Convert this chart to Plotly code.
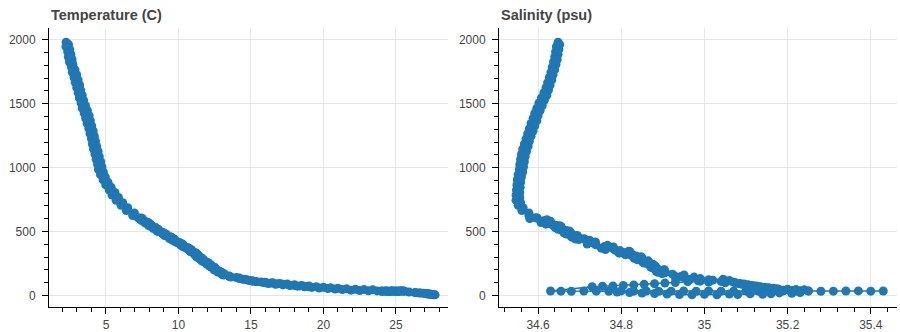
import plotly.graph_objects as go

# ---- deep profile ----
deep_depth = [
    1980, 1962, 1945, 1925, 1905, 1886, 1866, 1845, 1826, 1806,
    1785, 1766, 1745, 1726, 1705, 1686, 1665, 1646, 1625, 1606,
    1585, 1566, 1545, 1526, 1505, 1486, 1465, 1446, 1425, 1406,
    1385, 1366, 1345, 1326, 1305, 1286, 1265, 1246, 1225, 1206,
    1185, 1166, 1145, 1126, 1105, 1086, 1065, 1046, 1025, 1006,
    985, 966, 945, 926, 905, 886, 865, 846, 825, 806,
    785, 766, 745, 726, 705, 686, 665, 646, 625, 606,
    608, 576, 585, 552, 566, 539, 550, 514, 523, 496,
    508, 477, 484, 452, 467, 438, 450, 415, 422, 396,
    409, 376, 384, 353, 366, 336, 351, 314, 322, 297,
    308, 276, 285, 252, 266, 239, 250, 214, 223, 196,
    208, 177, 184, 152, 167, 140, 148,
]
deep_temp = [
    2.25, 2.42, 2.24, 2.50, 2.36, 2.58, 2.40, 2.66, 2.48, 2.72,
    2.62, 2.86, 2.68, 2.98, 2.80, 3.08, 2.88, 3.18, 2.98, 3.26,
    3.08, 3.36, 3.16, 3.46, 3.28, 3.58, 3.36, 3.72, 3.50, 3.84,
    3.60, 3.92, 3.70, 4.02, 3.82, 4.12, 3.90, 4.20, 4.00, 4.28,
    4.06, 4.36, 4.14, 4.46, 4.24, 4.54, 4.32, 4.64, 4.42, 4.72,
    4.48, 4.82, 4.62, 4.96, 4.80, 5.14, 4.98, 5.36, 5.22, 5.62,
    5.42, 5.86, 5.70, 6.16, 6.04, 6.50, 6.40, 6.96, 6.84, 7.44,
    7.22, 7.78, 7.52, 8.05, 7.72, 8.25, 7.92, 8.60, 8.27, 8.85,
    8.52, 9.15, 8.87, 9.50, 9.12, 9.73, 9.37, 10.07, 9.79, 10.33,
    9.98, 10.62, 10.33, 10.92, 10.58, 11.14, 10.77, 11.36, 11.10, 11.53,
    11.24, 11.75, 11.47, 12.07, 11.70, 12.25, 11.92, 12.53, 12.25, 12.73,
    12.42, 12.98, 12.71, 13.50, 12.98, 14.00, 13.52,
]
deep_sal = [
    34.648, 34.652, 34.644, 34.650, 34.642, 34.648, 34.640, 34.646, 34.637, 34.643,
    34.634, 34.640, 34.631, 34.636, 34.627, 34.633, 34.623, 34.629, 34.619, 34.625,
    34.614, 34.621, 34.608, 34.615, 34.602, 34.610, 34.597, 34.605, 34.592, 34.600,
    34.588, 34.597, 34.583, 34.592, 34.579, 34.588, 34.575, 34.583, 34.571, 34.579,
    34.567, 34.576, 34.563, 34.572, 34.560, 34.569, 34.558, 34.567, 34.556, 34.565,
    34.555, 34.563, 34.552, 34.560, 34.550, 34.558, 34.549, 34.557, 34.548, 34.556,
    34.547, 34.556, 34.547, 34.558, 34.552, 34.564, 34.561, 34.578, 34.578, 34.598,
    34.594, 34.615, 34.614, 34.634, 34.630, 34.642, 34.643, 34.655, 34.658, 34.665,
    34.667, 34.676, 34.680, 34.690, 34.690, 34.698, 34.700, 34.719, 34.719, 34.739,
    34.733, 34.761, 34.760, 34.786, 34.780, 34.806, 34.797, 34.824, 34.826, 34.835,
    34.836, 34.849, 34.851, 34.861, 34.864, 34.867, 34.870, 34.877, 34.881, 34.887,
    34.888, 34.905, 34.906, 34.929, 34.923, 34.951, 34.943,
]

# ---- extra readings in the 600-130 m layer ----
mid_depth = [
    601, 592, 571, 580, 558, 545, 531, 540, 518, 505,
    491, 500, 481, 470, 460, 444, 455, 432, 441, 419,
    402, 392, 370, 380, 360, 342, 331, 346, 318, 303,
    291, 300, 280, 271, 259, 244, 254, 230, 220, 201,
    190, 200, 171, 160, 181, 144, 136,
]
mid_temp = [
    7.52, 7.38, 7.91, 7.54, 8.08, 8.00, 8.43, 8.06, 8.60, 8.52,
    8.97, 8.58, 9.12, 9.03, 9.43, 9.42, 9.51, 9.60, 9.72, 9.79,
    10.28, 10.17, 10.72, 10.33, 10.86, 10.85, 11.22, 10.80, 11.35, 11.25,
    11.62, 11.28, 11.73, 11.60, 12.01, 11.96, 12.08, 12.14, 12.50, 12.46,
    12.83, 12.47, 13.15, 13.09, 12.98, 13.62, 14.19,
]
mid_sal = [
    34.580, 34.621, 34.607, 34.630, 34.619, 34.652, 34.641, 34.655, 34.648, 34.674,
    34.662, 34.677, 34.668, 34.694, 34.680, 34.711, 34.682, 34.724, 34.690, 34.738,
    34.718, 34.767, 34.752, 34.781, 34.762, 34.821, 34.795, 34.818, 34.810, 34.847,
    34.831, 34.849, 34.838, 34.865, 34.852, 34.876, 34.855, 34.882, 34.871, 34.903,
    34.884, 34.904, 34.898, 34.951, 34.888, 34.975, 34.931,
]

# ---- near-surface part ----
surf_depth = [
    104, 93, 99, 88, 94, 83, 89, 78, 84, 73, 79, 68, 74, 63, 69,
    58, 64, 54, 60, 50, 56, 46, 52, 42, 49, 39, 46, 37, 44, 36,
    35, 34, 36, 35, 34, 33, 35, 34, 36, 33, 34, 35, 33, 34,
    36, 33, 35, 34, 33, 35, 34, 36, 33, 34, 35, 33, 34, 35,
    68, 72, 75, 79, 83, 87, 92, 97, 102, 108, 112,
    120, 128, 118, 110, 105, 115, 125, 132, 124, 100,
    22, 17, 20, 14, 10, 13, 8, 11, 6, 9, 5, 8, 12, 15, 19, 23, 27,
]
surf_temp = [
    16.0, 16.2, 16.5, 16.7, 17.0, 17.2, 17.5, 17.7, 18.0, 18.2, 18.5, 18.7, 19.0, 19.2, 19.5,
    19.7, 20.0, 20.3, 20.5, 20.8, 21.0, 21.3, 21.6, 21.9, 22.2, 22.5, 22.8, 23.1, 23.4, 23.7,
    24.0, 25.2, 24.3, 25.5, 24.6, 24.9, 25.3, 24.1, 25.0, 24.4, 25.6, 24.7, 25.1, 24.2,
    25.4, 24.5, 24.8, 25.2, 24.0, 25.5, 24.6, 24.3, 25.0, 24.8, 25.3, 24.4, 25.1, 24.7,
    19.0, 18.7, 18.4, 18.0, 17.6, 17.2, 16.8, 16.4, 15.9, 15.4, 15.1,
    14.8, 14.4, 14.9, 15.3, 15.7, 15.1, 14.6, 14.2, 14.7, 16.0,
    26.4, 26.9, 26.6, 27.1, 27.4, 27.2, 27.5, 27.3, 27.6, 27.4, 27.7, 27.5, 27.2, 27.0, 26.7, 26.3, 25.9,
]
surf_sal = [
    35.070, 35.080, 35.075, 35.090, 35.085, 35.100, 35.095, 35.110, 35.105, 35.120, 35.115, 35.130, 35.125, 35.140, 35.135,
    35.150, 35.145, 35.160, 35.155, 35.170, 35.165, 35.180, 35.175, 35.190, 35.200, 35.210, 35.220, 35.230, 35.240, 35.250,
    35.430, 35.400, 35.370, 35.340, 35.310, 35.280, 35.250, 35.220, 35.190, 35.160, 35.130, 35.100, 35.070, 35.040,
    35.010, 34.980, 34.950, 34.920, 34.890, 34.860, 34.830, 34.800, 34.770, 34.740, 34.710, 34.680, 34.655, 34.630,
    34.730, 34.755, 34.780, 34.805, 34.830, 34.855, 34.880, 34.905, 34.930, 34.960, 34.990,
    35.020, 35.045, 35.060, 35.040, 35.010, 34.985, 34.965, 34.990, 35.010, 35.050,
    35.230, 35.210, 35.180, 35.160, 35.140, 35.110, 35.080, 35.060, 35.030, 35.000, 34.970, 34.940, 34.910, 34.880, 34.850, 34.820, 34.790,
]

titles = ["Temperature (C)", "Salinity (psu)"]
temp_ticks = [5, 10, 15, 20, 25]
sal_ticks = [34.6, 34.8, 35, 35.2, 35.4]
depth_ticks = [0, 500, 1000, 1500, 2000]

# assemble the cast in order: deep readings, with the extra 600-130 m readings
# interleaved row by row, then the near-surface readings
def assemble(deep, mid, surf):
    out = list(deep[:70])
    for r in range(5):
        out += deep[70 + 10 * r: 80 + 10 * r]
        out += mid[10 * r: 10 * r + 10][::-1]
    return out + list(surf)

depth = assemble(deep_depth, mid_depth, surf_depth)
temp = assemble(deep_temp, mid_temp, surf_temp)
sal = assemble(deep_sal, mid_sal, surf_sal)

BLUE = "#1f77b4"
W, H = 900, 332

fig = go.Figure()
for xs, xa, ya in [(temp, "x", "y"), (sal, "x2", "y2")]:
    fig.add_trace(go.Scatter(
        x=xs, y=depth, xaxis=xa, yaxis=ya, mode="lines+markers",
        line=dict(color=BLUE, width=1.5),
        marker=dict(color=BLUE, size=9, line=dict(width=0)),
        showlegend=False, hoverinfo="skip",
    ))

def px(v, total):
    return v / total

ydom = [1 - px(309, H), 1 - px(28, H)]
tickfont = dict(family="Liberation Sans, Arial, sans-serif", size=12, color="#444")

common_axis = dict(
    showline=True, linecolor="black", linewidth=1,
    ticks="outside", ticklen=6, tickcolor="black", tickwidth=1,
    showgrid=True, gridcolor="#e6e6e6", gridwidth=1,
    zeroline=False, tickfont=tickfont,
)

fig.update_layout(
    width=W, height=H,
    margin=dict(l=0, r=0, t=0, b=0),
    paper_bgcolor="white", plot_bgcolor="white",
    xaxis=dict(domain=[px(49, W), px(448, W)], range=[1.07, 28.59], anchor="y",
               tickvals=temp_ticks,
               minor=dict(ticks="outside", ticklen=4, dtick=1, tick0=0, tickcolor="black", showgrid=False),
               **common_axis),
    yaxis=dict(domain=ydom, range=[-91, 2093], anchor="x",
               tickvals=depth_ticks, ticklabelstandoff=4,
               minor=dict(ticks="outside", ticklen=4, dtick=100, tick0=0, tickcolor="black", showgrid=False),
               **common_axis),
    xaxis2=dict(domain=[px(499, W), px(897, W)], range=[34.506, 35.463], anchor="y2",
                tickvals=sal_ticks,
                minor=dict(ticks="outside", ticklen=4, dtick=0.04, tick0=34.6, tickcolor="black", showgrid=False),
                **common_axis),
    yaxis2=dict(domain=ydom, range=[-91, 2093], anchor="x2",
                tickvals=depth_ticks, ticklabelstandoff=4,
                minor=dict(ticks="outside", ticklen=4, dtick=100, tick0=0, tickcolor="black", showgrid=False),
                **common_axis),
)

for t, x0 in zip(titles, [49, 499]):
    fig.add_annotation(
        text=f"<b>{t}</b>", xref="paper", yref="paper",
        x=px(x0, W), y=1 - px(15, H), xanchor="left", yanchor="middle",
        showarrow=False,
        font=dict(family="Liberation Sans, Arial, sans-serif", size=14.5, color="#444"),
    )

fig.write_html(
    "out.html",
    config={"displayModeBar": False},
    post_script="document.body.style.margin='0';document.body.style.overflow='hidden';",
)
